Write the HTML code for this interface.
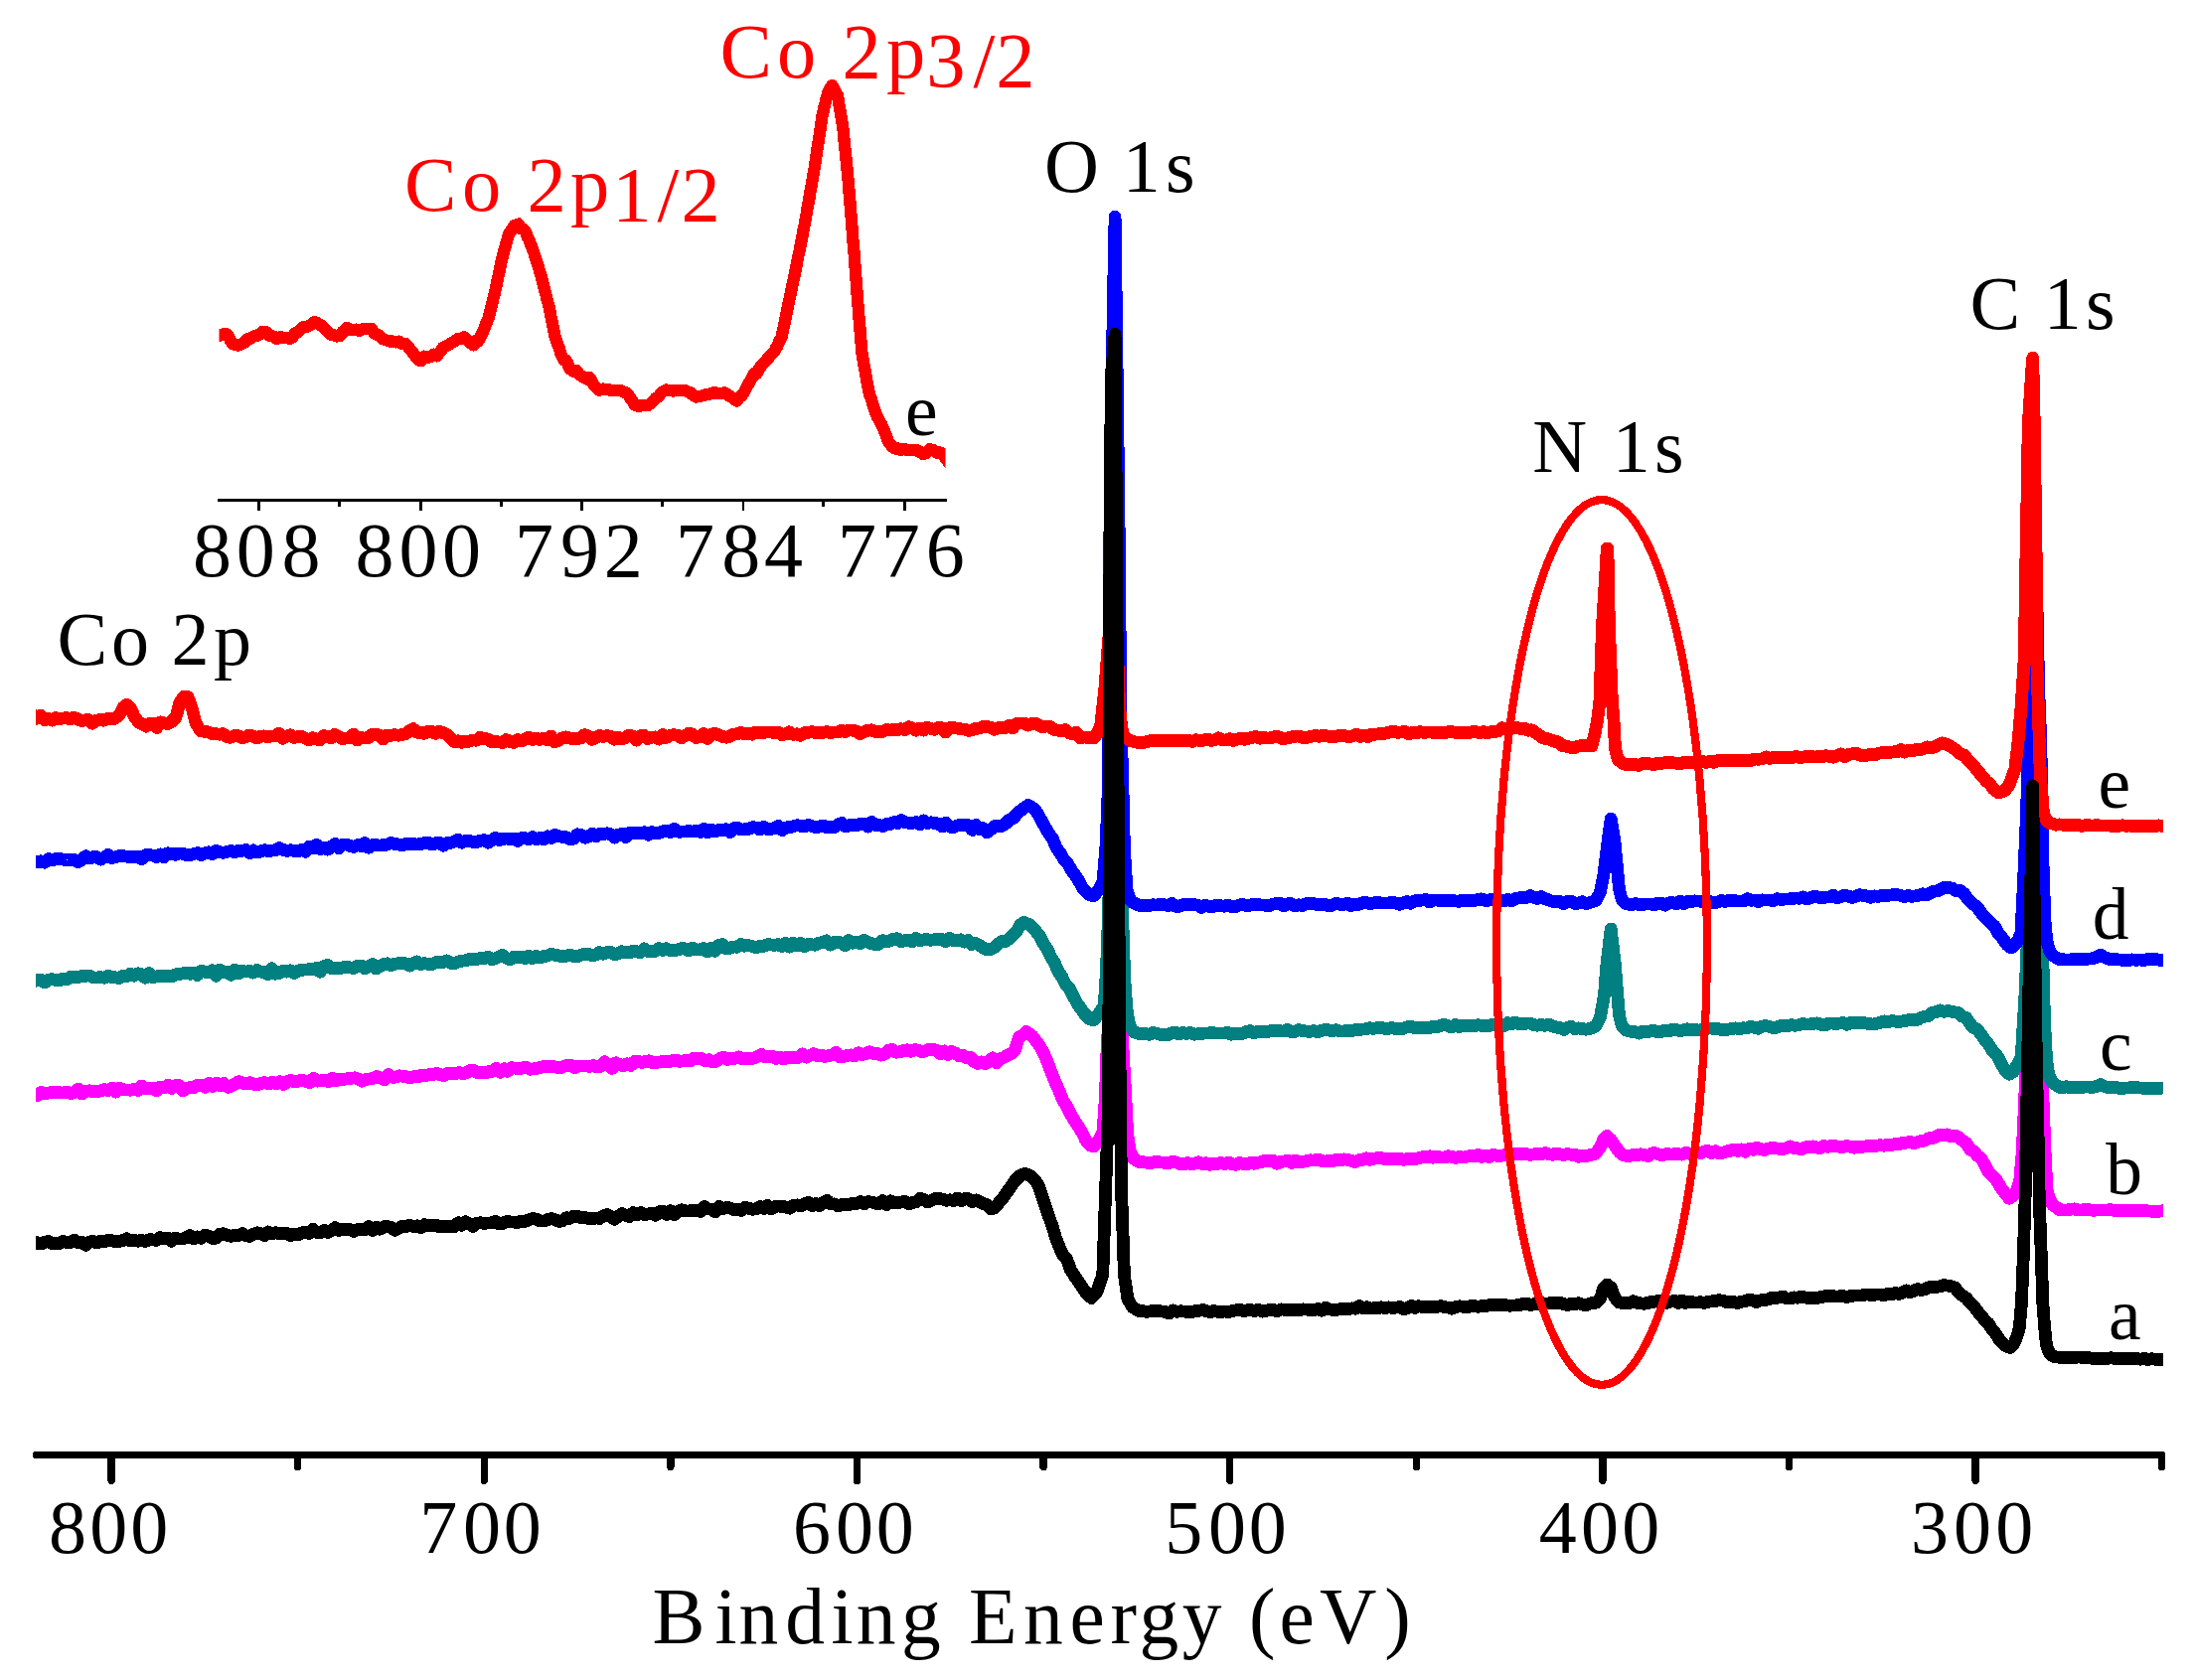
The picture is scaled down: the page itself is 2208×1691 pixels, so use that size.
<!DOCTYPE html>
<html lang="en">
<head>
<meta charset="utf-8">
<title>XPS survey spectra</title>
<style>html,body{margin:0;padding:0;background:#fff}svg{display:block}</style>
</head>
<body>
<svg width="2208" height="1691" viewBox="0 0 2208 1691" shape-rendering="crispEdges">
<rect width="2208" height="1691" fill="#fff"/>
<g stroke="#000" stroke-width="7.5" fill="none" stroke-linecap="round" stroke-linejoin="round">
<path d="M36.6 1464.7 H2175.7 V1476.5"/>
<path d="M112.1 1464.7 V1490.3"/>
<path d="M487.3 1464.7 V1490.3"/>
<path d="M862.5 1464.7 V1490.3"/>
<path d="M1237.7 1464.7 V1490.3"/>
<path d="M1612.9 1464.7 V1490.3"/>
<path d="M1988.1 1464.7 V1490.3"/>
<path d="M299.7 1464.7 V1476.5"/>
<path d="M674.9 1464.7 V1476.5"/>
<path d="M1050.1 1464.7 V1476.5"/>
<path d="M1425.3 1464.7 V1476.5"/>
<path d="M1800.5 1464.7 V1476.5"/>
</g>
<g stroke="#000" stroke-width="2.8" fill="none">
<path d="M219.2 503.2 H953"/>
<path d="M260.5 503.2 V513.8"/>
<path d="M423.4 503.2 V513.8"/>
<path d="M585.8 503.2 V513.8"/>
<path d="M748.0 503.2 V513.8"/>
<path d="M910.4 503.2 V513.8"/>
<path d="M341.3 503.2 V509.6"/>
<path d="M504.3 503.2 V509.6"/>
<path d="M666.8 503.2 V509.6"/>
<path d="M828.5 503.2 V509.6"/>
</g>
<clipPath id="cp"><rect x="36" y="0" width="2141" height="1691"/></clipPath>
<clipPath id="ci"><rect x="220.5" y="0" width="731" height="520"/></clipPath>
<g fill="none" stroke-width="12.8" stroke-linejoin="round" stroke-linecap="butt" clip-path="url(#cp)">
<path stroke="#ff00ff" d="M30.0 1101.8 L33.8 1102.1 L37.5 1102.9 L41.3 1099.5 L45.0 1100.6 L48.8 1100.0 L52.5 1099.3 L56.3 1099.5 L60.0 1099.8 L63.8 1100.0 L67.6 1099.0 L71.3 1100.7 L75.1 1099.2 L78.8 1096.2 L82.6 1101.1 L86.3 1098.6 L90.1 1097.8 L93.9 1098.9 L97.6 1098.5 L101.4 1098.0 L105.1 1096.5 L108.9 1097.7 L112.6 1095.2 L116.4 1099.2 L120.1 1095.3 L123.9 1096.8 L127.7 1097.0 L131.4 1097.2 L135.2 1096.5 L138.9 1097.4 L142.7 1093.0 L146.4 1096.0 L150.2 1095.7 L154.0 1095.1 L157.7 1097.7 L161.5 1094.0 L165.2 1095.1 L169.0 1092.2 L172.7 1095.3 L176.5 1092.6 L180.2 1092.6 L184.0 1098.0 L187.8 1095.6 L191.5 1094.5 L195.3 1094.6 L199.0 1092.1 L202.8 1092.4 L206.5 1094.2 L210.3 1090.3 L214.1 1093.4 L217.8 1090.2 L221.6 1092.5 L225.3 1090.5 L229.1 1094.3 L232.8 1093.1 L236.6 1090.8 L240.3 1088.7 L244.1 1090.1 L247.9 1091.0 L251.6 1089.6 L255.4 1091.2 L259.1 1092.0 L262.9 1090.3 L266.6 1089.6 L270.4 1091.0 L274.2 1089.3 L277.9 1090.7 L281.7 1088.8 L285.4 1091.4 L289.2 1088.6 L292.9 1087.4 L296.7 1089.0 L300.4 1087.9 L304.2 1087.4 L308.0 1088.5 L311.7 1089.6 L315.5 1085.4 L319.2 1088.2 L323.0 1087.8 L326.7 1087.5 L330.5 1088.6 L334.3 1085.3 L338.0 1087.7 L341.8 1086.2 L345.5 1086.4 L349.3 1085.7 L353.0 1085.3 L356.8 1084.8 L360.5 1086.0 L364.3 1088.2 L368.1 1086.5 L371.8 1086.0 L375.6 1085.4 L379.3 1083.6 L383.1 1084.8 L386.8 1086.6 L390.6 1081.5 L394.3 1084.1 L398.1 1084.1 L401.9 1082.8 L405.6 1083.2 L409.4 1083.9 L413.1 1084.9 L416.9 1083.5 L420.6 1083.9 L424.4 1082.0 L428.2 1082.6 L431.9 1081.6 L435.7 1081.6 L439.4 1080.3 L443.2 1081.8 L446.9 1082.6 L450.7 1080.1 L454.4 1080.4 L458.2 1080.7 L462.0 1079.6 L465.7 1080.7 L469.5 1079.6 L473.2 1077.4 L477.0 1077.4 L480.7 1079.8 L484.5 1079.5 L488.3 1080.0 L492.0 1078.6 L495.8 1078.3 L499.5 1075.5 L503.3 1079.4 L507.0 1075.8 L510.8 1078.2 L514.5 1074.7 L518.3 1075.0 L522.1 1075.9 L525.8 1074.8 L529.6 1074.2 L533.3 1076.3 L537.1 1075.8 L540.8 1075.3 L544.6 1074.2 L548.4 1073.4 L552.1 1073.7 L555.9 1073.5 L559.6 1074.0 L563.4 1074.9 L567.1 1073.4 L570.9 1072.2 L574.6 1072.3 L578.4 1074.7 L582.2 1073.0 L585.9 1072.9 L589.7 1072.9 L593.4 1073.3 L597.2 1072.6 L600.9 1074.0 L604.7 1073.4 L608.5 1068.7 L612.2 1071.9 L616.0 1075.4 L619.7 1069.9 L623.5 1071.6 L627.2 1072.7 L631.0 1070.8 L634.7 1072.4 L638.5 1068.4 L642.3 1068.2 L646.0 1069.4 L649.8 1068.4 L653.5 1067.8 L657.3 1069.9 L661.0 1069.4 L664.8 1068.8 L668.6 1068.1 L672.3 1068.8 L676.1 1068.0 L679.8 1066.9 L683.6 1068.4 L687.3 1067.9 L691.1 1067.2 L694.8 1067.8 L698.6 1065.0 L702.4 1066.1 L706.1 1065.4 L709.9 1067.9 L713.6 1066.7 L717.4 1068.9 L721.1 1068.1 L724.9 1065.3 L728.6 1064.2 L732.4 1066.4 L736.2 1065.3 L739.9 1065.3 L743.7 1063.9 L747.4 1066.1 L751.2 1065.3 L754.9 1065.4 L758.7 1065.1 L762.5 1063.3 L766.2 1061.3 L770.0 1064.0 L773.7 1063.4 L777.5 1063.5 L781.2 1065.5 L785.0 1063.9 L788.7 1066.0 L792.5 1064.0 L796.3 1064.6 L800.0 1064.1 L803.8 1064.3 L807.5 1061.1 L811.3 1064.1 L815.0 1062.5 L818.8 1060.7 L822.6 1062.7 L826.3 1062.2 L830.1 1063.4 L833.8 1062.6 L837.6 1062.0 L841.3 1059.2 L845.1 1063.8 L848.8 1063.5 L852.6 1062.4 L856.4 1061.9 L860.1 1062.8 L863.9 1059.8 L867.6 1061.7 L871.4 1060.5 L875.1 1058.8 L878.9 1060.5 L882.7 1060.3 L886.4 1062.1 L890.2 1060.9 L893.9 1057.2 L897.7 1056.6 L901.4 1059.2 L905.2 1058.9 L908.9 1057.7 L912.7 1056.8 L916.5 1058.3 L920.2 1056.7 L924.0 1057.0 L927.7 1058.9 L931.5 1057.7 L935.2 1056.3 L939.0 1056.1 L942.8 1057.7 L946.5 1060.7 L950.3 1058.0 L954.0 1061.6 L957.8 1058.5 L961.5 1060.1 L965.3 1062.9 L969.0 1062.3 L972.8 1064.8 L976.6 1064.3 L980.3 1068.5 L984.1 1070.5 L987.8 1068.9 L991.6 1070.8 L995.3 1068.7 L999.1 1064.8 L1002.9 1069.9 L1006.6 1065.7 L1010.4 1064.4 L1014.1 1062.1 L1017.9 1060.3 L1021.6 1056.6 L1025.4 1043.9 L1029.1 1042.0 L1032.9 1038.5 L1039.0 1043.0 L1046.4 1052.9 L1050.3 1060.0 L1054.2 1069.0 L1058.0 1079.5 L1061.9 1088.9 L1065.8 1097.7 L1069.7 1107.4 L1073.5 1113.1 L1077.4 1121.4 L1081.3 1127.9 L1085.2 1133.9 L1089.0 1140.0 L1092.9 1148.0 L1097.0 1153.0 L1101.0 1154.0 L1105.5 1148.0 L1110.0 1139.0 L1112.5 1103.0 L1113.6 1066.0 L1115.5 1030.0 L1117.0 830.0 L1121.5 650.0 L1126.0 830.0 L1128.8 1030.0 L1130.5 1065.7 L1131.6 1081.0 L1134.7 1141.0 L1137.0 1158.0 L1140.5 1166.0 L1146.0 1169.5 L1153.6 1170.0 L1157.4 1171.0 L1161.1 1169.7 L1164.9 1169.6 L1168.6 1170.0 L1172.4 1170.2 L1176.1 1170.7 L1179.9 1169.4 L1183.6 1170.0 L1187.4 1171.5 L1191.1 1172.1 L1194.9 1170.5 L1198.6 1171.5 L1202.4 1171.1 L1206.1 1169.8 L1209.9 1171.5 L1213.6 1170.8 L1217.4 1172.3 L1221.1 1171.4 L1224.9 1171.5 L1228.6 1170.3 L1232.4 1171.6 L1236.1 1169.9 L1239.9 1171.6 L1243.6 1172.4 L1247.4 1170.2 L1251.1 1171.6 L1254.9 1171.9 L1258.6 1170.4 L1262.4 1171.2 L1266.1 1170.1 L1269.9 1169.5 L1273.6 1168.1 L1277.4 1168.7 L1281.1 1168.2 L1284.9 1171.2 L1288.6 1169.5 L1292.4 1169.0 L1296.1 1168.0 L1299.9 1170.4 L1303.7 1168.0 L1307.4 1170.0 L1311.2 1169.5 L1314.9 1168.5 L1318.7 1167.8 L1322.4 1168.1 L1326.2 1166.9 L1329.9 1168.4 L1333.7 1169.1 L1337.4 1168.5 L1341.2 1168.6 L1344.9 1167.2 L1348.7 1168.0 L1352.4 1166.9 L1356.2 1167.4 L1359.9 1168.3 L1363.7 1169.7 L1367.4 1167.7 L1371.2 1167.5 L1374.9 1165.8 L1378.7 1167.3 L1382.4 1166.3 L1386.2 1165.7 L1389.9 1165.5 L1393.7 1166.7 L1397.4 1166.1 L1401.2 1166.9 L1404.9 1166.1 L1408.7 1166.2 L1412.4 1167.3 L1416.2 1166.7 L1419.9 1166.6 L1423.7 1167.0 L1427.4 1165.8 L1431.2 1164.7 L1434.9 1164.7 L1438.7 1163.8 L1442.4 1165.2 L1446.2 1164.4 L1449.9 1165.0 L1453.7 1165.1 L1457.5 1163.7 L1461.2 1164.5 L1465.0 1165.4 L1468.7 1164.4 L1472.5 1165.1 L1476.2 1164.2 L1480.0 1163.5 L1483.7 1164.0 L1487.5 1162.5 L1491.2 1164.4 L1495.0 1163.3 L1498.7 1164.6 L1502.5 1162.3 L1506.2 1163.3 L1510.0 1163.3 L1513.7 1162.7 L1517.5 1163.0 L1521.2 1162.0 L1525.0 1161.7 L1528.7 1161.3 L1532.5 1161.9 L1536.2 1161.6 L1540.0 1162.3 L1543.7 1161.9 L1547.5 1161.6 L1551.2 1161.6 L1555.0 1160.6 L1558.7 1161.8 L1562.5 1162.3 L1566.2 1160.9 L1570.0 1161.8 L1573.7 1162.5 L1577.5 1161.5 L1581.2 1162.3 L1585.0 1161.9 L1588.7 1164.3 L1592.5 1163.6 L1596.2 1163.5 L1600.0 1162.7 L1606.0 1161.0 L1611.0 1154.0 L1614.0 1146.0 L1617.2 1143.4 L1621.0 1147.0 L1625.0 1153.0 L1630.0 1160.0 L1634.0 1163.0 L1640.0 1163.4 L1643.8 1162.4 L1647.5 1162.7 L1651.3 1161.8 L1655.0 1162.5 L1658.8 1163.5 L1662.6 1160.9 L1666.3 1160.8 L1670.1 1162.2 L1673.9 1162.4 L1677.6 1161.4 L1681.4 1162.0 L1685.1 1161.8 L1688.9 1161.7 L1692.7 1162.2 L1696.4 1160.3 L1700.2 1161.2 L1703.9 1160.6 L1707.7 1159.7 L1711.5 1160.5 L1715.2 1158.9 L1719.0 1158.6 L1722.8 1160.6 L1726.5 1158.7 L1730.3 1160.8 L1734.0 1160.2 L1737.8 1158.8 L1741.6 1158.3 L1745.3 1156.9 L1749.1 1158.4 L1752.8 1156.9 L1756.6 1159.2 L1760.4 1156.2 L1764.1 1157.3 L1767.9 1155.0 L1771.6 1156.5 L1775.4 1157.6 L1779.2 1156.0 L1782.9 1155.6 L1786.7 1155.7 L1790.5 1156.3 L1794.2 1156.6 L1798.0 1155.5 L1801.7 1153.9 L1805.5 1155.6 L1809.3 1155.9 L1813.0 1156.8 L1816.8 1154.8 L1820.5 1154.6 L1824.3 1153.9 L1828.1 1154.9 L1831.8 1155.7 L1835.6 1153.4 L1839.4 1154.3 L1843.1 1153.4 L1846.9 1153.7 L1850.6 1154.2 L1854.4 1154.7 L1858.2 1153.6 L1861.9 1154.0 L1865.7 1155.2 L1869.4 1154.4 L1873.2 1154.4 L1877.0 1154.0 L1880.7 1153.3 L1884.5 1153.6 L1888.2 1153.4 L1892.0 1152.6 L1895.8 1153.2 L1899.5 1152.1 L1903.3 1152.6 L1907.1 1151.6 L1910.8 1151.9 L1914.6 1150.5 L1918.3 1150.2 L1922.1 1149.2 L1925.9 1150.7 L1929.6 1149.6 L1933.4 1148.6 L1937.1 1148.0 L1940.9 1145.8 L1944.7 1145.7 L1948.4 1144.1 L1952.2 1142.0 L1956.0 1142.3 L1959.7 1141.9 L1963.5 1143.9 L1967.2 1143.0 L1971.0 1144.6 L1974.8 1148.0 L1978.7 1150.5 L1982.5 1157.0 L1986.3 1158.6 L1990.2 1163.4 L1994.0 1166.2 L1997.8 1173.0 L2001.7 1180.7 L2005.5 1183.7 L2009.3 1188.0 L2013.2 1194.8 L2017.0 1200.0 L2022.0 1206.3 L2027.0 1203.0 L2030.0 1197.0 L2032.7 1189.0 L2035.0 1162.0 L2036.8 1126.0 L2038.5 1087.0 L2040.5 1050.0 L2046.0 1010.0 L2052.0 1050.0 L2056.1 1108.6 L2058.2 1162.0 L2060.0 1198.0 L2063.0 1208.0 L2066.0 1213.0 L2072.5 1217.5 L2076.2 1218.0 L2079.9 1218.1 L2083.7 1217.2 L2087.4 1216.9 L2091.1 1217.9 L2094.8 1217.9 L2098.5 1217.8 L2102.2 1217.8 L2105.9 1218.2 L2109.7 1218.1 L2113.4 1218.0 L2117.1 1218.1 L2120.8 1217.9 L2124.5 1217.8 L2128.2 1218.5 L2132.0 1218.0 L2135.7 1218.8 L2139.4 1218.4 L2143.1 1218.3 L2146.8 1218.8 L2150.6 1218.4 L2154.3 1218.6 L2158.0 1218.7 L2161.7 1218.9 L2165.4 1219.2 L2169.1 1219.8 L2172.8 1219.3 L2176.6 1218.7 L2180.3 1218.8 L2184.0 1219.0"/>
<path stroke="#008080" d="M30.0 986.7 L33.7 988.2 L37.5 986.3 L41.2 986.1 L45.0 988.9 L48.7 986.2 L52.5 985.7 L56.2 986.5 L60.0 986.8 L63.7 984.9 L67.5 985.6 L71.2 983.2 L75.0 983.9 L78.7 983.7 L82.5 982.4 L86.2 982.2 L89.9 982.0 L93.7 983.9 L97.4 984.0 L101.2 983.7 L104.9 984.2 L108.7 982.1 L112.4 983.7 L116.2 983.9 L119.9 984.5 L123.7 982.1 L127.4 982.6 L131.2 980.2 L134.9 982.2 L138.7 979.8 L142.4 980.8 L146.2 984.3 L149.9 979.6 L153.6 983.7 L157.4 983.0 L161.1 981.9 L164.9 982.8 L168.6 982.7 L172.4 983.1 L176.1 981.1 L179.9 980.3 L183.6 980.0 L187.4 979.2 L191.1 980.3 L194.9 979.1 L198.6 981.5 L202.4 977.3 L206.1 978.3 L209.8 978.5 L213.6 976.8 L217.3 982.3 L221.1 976.1 L224.8 979.0 L228.6 978.5 L232.3 981.3 L236.1 976.0 L239.8 980.1 L243.6 977.4 L247.3 978.1 L251.1 977.3 L254.8 979.1 L258.6 976.5 L262.3 978.0 L266.0 978.6 L269.8 980.7 L273.5 974.7 L277.3 980.2 L281.0 979.3 L284.8 977.2 L288.5 978.1 L292.3 976.8 L296.0 979.5 L299.8 977.2 L303.5 976.3 L307.3 976.0 L311.0 975.8 L314.8 975.6 L318.5 974.4 L322.3 978.3 L326.0 972.5 L329.7 971.5 L333.5 974.7 L337.2 974.4 L341.0 974.9 L344.7 973.8 L348.5 973.6 L352.2 973.9 L356.0 974.5 L359.7 972.2 L363.5 972.0 L367.2 975.0 L371.0 972.8 L374.7 970.5 L378.5 975.0 L382.2 972.7 L385.9 970.7 L389.7 969.8 L393.4 971.8 L397.2 970.1 L400.9 969.7 L404.7 969.2 L408.4 970.0 L412.2 972.1 L415.9 969.6 L419.7 967.9 L423.4 970.7 L427.2 969.6 L430.9 970.5 L434.7 970.8 L438.4 968.7 L442.1 968.6 L445.9 968.6 L449.6 966.9 L453.4 969.2 L457.1 970.0 L460.9 968.1 L464.6 967.2 L468.4 966.8 L472.1 965.7 L475.9 965.3 L479.6 965.5 L483.4 964.6 L487.1 964.8 L490.9 963.0 L494.6 965.5 L498.4 964.9 L502.1 963.0 L505.8 961.3 L509.6 964.4 L513.3 965.9 L517.1 963.2 L520.8 963.4 L524.6 963.1 L528.3 964.6 L532.1 962.1 L535.8 964.6 L539.6 962.5 L543.3 964.1 L547.1 962.6 L550.8 962.1 L554.6 960.3 L558.3 961.3 L562.0 961.8 L565.8 963.1 L569.5 962.4 L573.3 961.0 L577.0 962.4 L580.8 963.0 L584.5 961.2 L588.3 960.5 L592.0 960.3 L595.8 961.7 L599.5 961.0 L603.3 958.6 L607.0 960.2 L610.8 958.7 L614.5 958.1 L618.3 960.7 L622.0 960.0 L625.7 957.7 L629.5 958.6 L633.2 959.1 L637.0 957.3 L640.7 957.8 L644.5 958.6 L648.2 954.9 L652.0 957.6 L655.7 957.9 L659.5 957.3 L663.2 954.5 L667.0 956.6 L670.7 954.8 L674.5 956.7 L678.2 956.7 L681.9 956.1 L685.7 954.7 L689.4 954.9 L693.2 956.8 L696.9 954.3 L700.7 956.1 L704.4 955.9 L708.2 954.6 L711.9 958.1 L715.7 954.6 L719.4 957.3 L723.2 951.2 L726.9 950.6 L730.7 955.0 L734.4 954.4 L738.1 952.9 L741.9 953.2 L745.6 950.5 L749.4 952.2 L753.1 951.5 L756.9 952.5 L760.6 953.8 L764.4 952.4 L768.1 952.6 L771.9 950.8 L775.6 950.9 L779.4 951.4 L783.1 950.6 L786.9 952.6 L790.6 949.4 L794.4 953.2 L798.1 949.1 L801.8 951.9 L805.6 949.3 L809.3 952.7 L813.1 950.5 L816.8 950.8 L820.6 951.2 L824.3 949.1 L828.1 948.4 L831.8 946.9 L835.6 951.2 L839.3 948.4 L843.1 948.4 L846.8 949.0 L850.6 951.8 L854.3 946.5 L858.0 949.2 L861.8 948.3 L865.5 949.6 L869.3 946.3 L873.0 948.1 L876.8 949.7 L880.5 950.6 L884.3 950.4 L888.0 946.7 L891.8 947.7 L895.5 947.2 L899.3 945.1 L903.0 944.8 L906.8 947.6 L910.5 946.7 L914.2 946.0 L918.0 947.8 L921.7 944.6 L925.5 946.7 L929.2 945.9 L933.0 945.7 L936.7 946.3 L940.5 945.7 L944.2 945.6 L948.0 945.4 L951.7 947.6 L955.5 944.2 L959.2 946.5 L963.0 946.5 L966.7 945.8 L970.5 948.1 L974.2 946.4 L977.9 950.6 L981.7 949.3 L985.4 951.3 L989.2 953.9 L992.9 956.0 L996.7 955.4 L1000.4 953.8 L1004.2 950.6 L1007.9 947.5 L1011.7 947.5 L1015.4 945.0 L1019.2 941.1 L1022.9 937.8 L1026.7 931.0 L1030.4 928.5 L1037.0 931.0 L1046.4 942.0 L1050.1 949.8 L1053.8 954.9 L1057.6 963.4 L1061.3 968.9 L1065.0 977.9 L1068.7 983.2 L1072.4 990.7 L1076.1 994.9 L1079.8 1002.0 L1083.6 1009.2 L1087.3 1014.7 L1091.0 1020.0 L1097.0 1026.0 L1101.0 1026.5 L1105.5 1021.0 L1111.2 1012.0 L1113.5 976.0 L1114.8 940.0 L1116.0 900.0 L1117.0 700.0 L1121.5 520.0 L1126.0 700.0 L1128.8 900.0 L1129.7 923.0 L1130.8 958.6 L1132.3 994.3 L1134.5 1021.0 L1137.0 1033.0 L1140.5 1038.5 L1146.6 1040.5 L1152.8 1040.6 L1156.6 1041.4 L1160.3 1039.4 L1164.1 1040.2 L1167.8 1041.3 L1171.6 1041.5 L1175.3 1041.6 L1179.1 1039.7 L1182.9 1039.2 L1186.6 1040.9 L1190.4 1039.4 L1194.1 1040.4 L1197.9 1039.4 L1201.7 1041.2 L1205.4 1040.8 L1209.2 1040.5 L1212.9 1040.0 L1216.7 1039.9 L1220.4 1039.6 L1224.2 1040.1 L1228.0 1039.9 L1231.7 1040.1 L1235.5 1039.4 L1239.2 1041.2 L1243.0 1039.9 L1246.7 1040.6 L1250.5 1040.4 L1254.3 1038.5 L1258.0 1037.6 L1261.8 1039.8 L1265.5 1038.3 L1269.3 1038.5 L1273.1 1038.1 L1276.8 1038.3 L1280.6 1037.2 L1284.3 1038.0 L1288.1 1037.7 L1291.8 1038.1 L1295.6 1036.3 L1299.4 1038.8 L1303.1 1038.4 L1306.9 1036.7 L1310.6 1037.5 L1314.4 1038.0 L1318.2 1038.3 L1321.9 1037.7 L1325.7 1038.7 L1329.4 1037.5 L1333.2 1036.6 L1336.9 1036.8 L1340.7 1037.8 L1344.5 1036.7 L1348.2 1037.9 L1352.0 1038.0 L1355.7 1037.6 L1359.5 1037.9 L1363.2 1036.8 L1367.0 1036.7 L1370.8 1036.1 L1374.5 1035.8 L1378.3 1034.8 L1382.0 1035.4 L1385.8 1034.7 L1389.6 1034.2 L1393.3 1035.2 L1397.1 1035.3 L1400.8 1034.5 L1404.6 1035.8 L1408.3 1035.3 L1412.1 1035.3 L1415.9 1033.9 L1419.6 1033.2 L1423.4 1034.7 L1427.1 1034.4 L1430.9 1034.6 L1434.6 1034.2 L1438.4 1034.7 L1442.2 1033.2 L1445.9 1033.8 L1449.7 1032.5 L1453.4 1031.2 L1457.2 1032.6 L1461.0 1034.1 L1464.7 1031.5 L1468.5 1033.7 L1472.2 1032.3 L1476.0 1032.5 L1479.7 1032.8 L1483.5 1032.8 L1487.3 1031.7 L1491.0 1032.4 L1494.8 1032.4 L1498.5 1032.5 L1502.3 1031.0 L1506.1 1032.6 L1509.8 1032.6 L1513.6 1032.8 L1517.3 1029.6 L1521.1 1030.7 L1524.8 1028.9 L1528.6 1030.6 L1532.4 1031.0 L1536.1 1030.0 L1539.9 1029.9 L1543.6 1031.6 L1547.4 1032.2 L1551.1 1031.4 L1554.9 1032.3 L1558.7 1031.0 L1562.4 1032.9 L1566.2 1034.1 L1569.9 1034.6 L1573.7 1036.4 L1577.5 1034.2 L1581.2 1033.4 L1585.0 1035.7 L1588.7 1034.9 L1592.5 1035.7 L1596.2 1036.2 L1600.0 1035.5 L1606.0 1033.0 L1610.5 1024.0 L1614.5 1001.3 L1617.0 970.3 L1621.2 935.0 L1625.3 970.3 L1627.8 1001.3 L1629.5 1022.0 L1632.0 1032.0 L1636.0 1037.0 L1642.0 1038.5 L1645.7 1038.7 L1649.5 1040.1 L1653.2 1038.0 L1657.0 1038.9 L1660.7 1037.9 L1664.4 1037.4 L1668.2 1038.9 L1671.9 1038.4 L1675.6 1037.2 L1679.4 1038.1 L1683.1 1036.2 L1686.9 1036.6 L1690.6 1037.7 L1694.3 1036.9 L1698.1 1035.8 L1701.8 1036.8 L1705.6 1036.5 L1709.3 1037.0 L1713.0 1036.5 L1716.8 1035.4 L1720.5 1035.0 L1724.2 1035.2 L1728.0 1035.1 L1731.7 1036.4 L1735.5 1036.4 L1739.2 1036.2 L1742.9 1035.5 L1746.7 1034.9 L1750.4 1035.8 L1754.2 1034.7 L1757.9 1035.1 L1761.6 1033.3 L1765.4 1034.1 L1769.1 1035.3 L1772.9 1033.1 L1776.6 1032.5 L1780.3 1033.3 L1784.1 1034.6 L1787.8 1034.2 L1791.5 1032.6 L1795.3 1032.4 L1799.0 1032.5 L1802.8 1031.7 L1806.5 1032.3 L1810.2 1031.8 L1814.0 1030.6 L1817.7 1031.0 L1821.5 1031.0 L1825.2 1030.3 L1828.9 1029.9 L1832.7 1031.4 L1836.4 1032.0 L1840.1 1030.1 L1843.9 1029.9 L1847.6 1030.6 L1851.4 1030.0 L1855.1 1029.6 L1858.8 1031.3 L1862.6 1029.4 L1866.3 1029.7 L1870.1 1029.7 L1873.8 1029.5 L1877.5 1029.9 L1881.3 1030.5 L1885.0 1031.1 L1888.8 1030.1 L1892.5 1029.3 L1896.2 1027.9 L1900.0 1028.6 L1903.7 1027.6 L1907.4 1028.0 L1911.2 1028.7 L1914.9 1027.8 L1918.7 1027.2 L1922.4 1026.3 L1926.1 1026.5 L1929.9 1026.2 L1933.6 1024.2 L1937.4 1023.1 L1941.1 1022.6 L1944.8 1019.0 L1948.6 1018.7 L1952.3 1016.9 L1956.0 1018.3 L1959.8 1017.7 L1963.5 1018.0 L1967.3 1018.8 L1971.0 1019.5 L1974.8 1023.2 L1978.7 1024.3 L1982.5 1030.4 L1986.3 1034.5 L1990.2 1036.5 L1994.0 1041.8 L1997.8 1047.0 L2001.7 1052.0 L2005.5 1058.1 L2009.3 1061.6 L2013.2 1068.8 L2017.0 1076.0 L2022.0 1081.2 L2026.0 1079.0 L2030.0 1072.0 L2034.2 1064.0 L2035.8 1037.0 L2038.0 1001.0 L2039.5 965.7 L2041.0 930.0 L2046.0 880.0 L2052.0 930.0 L2056.1 974.6 L2057.3 1019.0 L2058.8 1055.0 L2060.6 1076.4 L2063.0 1085.0 L2066.0 1090.0 L2072.5 1094.3 L2076.1 1094.6 L2079.7 1093.7 L2083.3 1094.8 L2086.9 1094.5 L2090.6 1094.2 L2094.2 1094.5 L2097.8 1094.1 L2101.4 1094.0 L2105.0 1094.5 L2110.0 1093.5 L2114.0 1091.5 L2118.0 1093.5 L2123.0 1095.0 L2126.8 1094.6 L2130.6 1094.7 L2134.4 1095.7 L2138.2 1095.1 L2142.1 1094.9 L2145.9 1094.8 L2149.7 1094.7 L2153.5 1095.0 L2157.3 1095.2 L2161.1 1095.5 L2164.9 1095.5 L2168.8 1095.3 L2172.6 1095.1 L2176.4 1095.1 L2180.2 1094.7 L2184.0 1095.6"/>
<path stroke="#0000ff" d="M30.0 867.0 L33.7 867.2 L37.5 867.7 L41.2 866.8 L45.0 868.2 L48.7 864.6 L52.5 865.8 L56.2 864.6 L60.0 864.4 L63.7 865.1 L67.5 865.5 L71.2 865.5 L75.0 865.4 L78.7 867.6 L82.5 865.4 L86.2 861.8 L90.0 864.1 L93.7 862.7 L97.5 862.7 L101.2 865.1 L105.0 862.9 L108.7 860.5 L112.5 863.6 L116.2 862.7 L120.0 861.5 L123.7 861.7 L127.5 862.1 L131.2 862.8 L135.0 862.0 L138.7 862.5 L142.5 864.7 L146.2 860.7 L150.0 860.5 L153.7 861.0 L157.4 862.7 L161.2 860.0 L164.9 862.8 L168.7 858.8 L172.4 859.1 L176.2 860.3 L179.9 859.0 L183.7 859.2 L187.4 860.5 L191.2 860.6 L194.9 859.5 L198.7 858.6 L202.4 860.6 L206.2 859.0 L209.9 857.8 L213.7 859.6 L217.4 856.4 L221.2 857.7 L224.9 858.3 L228.7 857.3 L232.4 856.4 L236.2 857.7 L239.9 856.4 L243.7 856.2 L247.4 855.5 L251.2 858.7 L254.9 855.9 L258.7 858.1 L262.4 856.8 L266.2 855.7 L269.9 856.8 L273.7 856.1 L277.4 855.7 L281.1 853.5 L284.9 855.4 L288.6 856.4 L292.4 855.8 L296.1 856.4 L299.9 857.0 L303.6 855.3 L307.4 857.3 L311.1 852.2 L314.9 853.7 L318.6 850.2 L322.4 854.6 L326.1 853.2 L329.9 855.1 L333.6 852.0 L337.4 849.4 L341.1 853.8 L344.9 850.0 L348.6 850.0 L352.4 851.4 L356.1 852.4 L359.9 850.7 L363.6 851.5 L367.4 848.5 L371.1 853.3 L374.9 850.6 L378.6 850.6 L382.4 851.1 L386.1 850.3 L389.9 850.1 L393.6 848.4 L397.4 849.4 L401.1 850.0 L404.9 850.8 L408.6 849.2 L412.3 849.4 L416.1 849.7 L419.8 850.0 L423.6 849.4 L427.3 848.6 L431.1 848.1 L434.8 850.1 L438.6 848.7 L442.3 848.0 L446.1 851.2 L449.8 848.7 L453.6 848.4 L457.3 847.1 L461.1 845.3 L464.8 848.2 L468.6 846.3 L472.3 846.3 L476.1 847.6 L479.8 847.4 L483.6 846.1 L487.3 845.6 L491.1 848.2 L494.8 845.8 L498.6 843.3 L502.3 845.5 L506.1 844.4 L509.8 844.0 L513.6 844.7 L517.3 843.9 L521.1 846.3 L524.8 843.7 L528.6 843.7 L532.3 845.0 L536.0 842.5 L539.8 844.7 L543.5 843.2 L547.3 844.8 L551.0 841.8 L554.8 843.5 L558.5 840.4 L562.3 841.9 L566.0 842.3 L569.8 842.8 L573.5 844.7 L577.3 844.3 L581.0 839.8 L584.8 840.5 L588.5 843.2 L592.3 842.0 L596.0 839.3 L599.8 841.8 L603.5 839.4 L607.3 839.6 L611.0 838.8 L614.8 839.9 L618.5 843.1 L622.3 840.2 L626.0 839.2 L629.8 842.6 L633.5 838.2 L637.3 838.4 L641.0 838.1 L644.8 839.0 L648.5 837.8 L652.3 840.3 L656.0 837.7 L659.7 838.9 L663.5 838.3 L667.2 836.7 L671.0 836.3 L674.7 837.5 L678.5 834.1 L682.2 837.2 L686.0 837.1 L689.7 837.0 L693.5 836.6 L697.2 837.1 L701.0 836.0 L704.7 837.4 L708.5 834.2 L712.2 837.7 L716.0 835.1 L719.7 837.0 L723.5 835.5 L727.2 835.4 L731.0 834.7 L734.7 837.5 L738.5 833.8 L742.2 833.3 L746.0 835.1 L749.7 834.8 L753.5 834.3 L757.2 832.7 L761.0 833.0 L764.7 835.0 L768.5 832.2 L772.2 834.4 L776.0 834.4 L779.7 833.4 L783.4 831.4 L787.2 835.6 L790.9 832.9 L794.7 832.7 L798.4 831.7 L802.2 830.7 L805.9 831.4 L809.7 831.9 L813.4 830.3 L817.2 831.5 L820.9 832.9 L824.7 831.9 L828.4 831.1 L832.2 832.7 L835.9 832.5 L839.7 832.5 L843.4 830.0 L847.2 828.5 L850.9 832.0 L854.7 830.8 L858.4 830.0 L862.2 830.9 L865.9 829.4 L869.7 829.0 L873.4 832.2 L877.2 827.3 L880.9 830.5 L884.7 830.6 L888.4 831.6 L892.2 829.4 L895.9 829.6 L899.7 827.5 L903.4 828.6 L907.2 825.5 L910.9 827.6 L914.6 828.3 L918.4 828.2 L922.1 827.6 L925.9 829.9 L929.6 826.0 L933.4 828.5 L937.1 827.8 L940.9 828.6 L944.6 829.0 L948.4 832.1 L952.1 828.3 L955.9 832.1 L959.6 832.6 L963.4 830.9 L967.1 830.5 L970.9 830.0 L974.6 830.8 L978.4 835.5 L982.1 830.3 L985.9 834.6 L989.6 833.7 L993.4 838.0 L997.1 835.0 L1000.9 831.5 L1004.6 831.6 L1008.4 831.4 L1012.1 828.9 L1015.9 825.1 L1019.6 823.6 L1023.4 819.4 L1027.1 815.9 L1030.9 813.0 L1034.6 810.5 L1041.0 814.0 L1044.7 819.6 L1048.4 826.5 L1052.1 833.0 L1055.8 839.5 L1059.5 844.3 L1063.2 853.6 L1067.0 858.6 L1070.7 865.0 L1074.4 869.0 L1078.1 875.7 L1081.8 880.8 L1085.5 886.2 L1089.2 893.5 L1092.9 897.5 L1097.0 901.0 L1101.0 901.5 L1105.5 896.0 L1110.0 887.0 L1113.0 851.0 L1114.5 816.0 L1115.7 780.0 L1116.2 594.0 L1117.6 480.0 L1120.3 307.0 L1122.1 218.2 L1123.3 307.0 L1125.5 480.0 L1126.7 580.0 L1127.3 660.0 L1128.3 740.0 L1129.7 780.0 L1130.8 833.6 L1132.3 869.3 L1134.2 896.0 L1137.0 905.0 L1140.0 908.5 L1147.0 911.5 L1152.8 911.7 L1156.6 911.4 L1160.3 910.8 L1164.1 911.1 L1167.8 909.9 L1171.6 910.7 L1175.3 911.6 L1179.1 909.4 L1182.9 912.3 L1186.6 912.2 L1190.4 910.8 L1194.1 910.3 L1197.9 910.4 L1201.7 910.6 L1205.4 911.1 L1209.2 913.5 L1212.9 911.0 L1216.7 912.5 L1220.4 912.9 L1224.2 911.1 L1228.0 911.6 L1231.7 912.2 L1235.5 911.1 L1239.2 912.4 L1243.0 913.0 L1246.7 911.2 L1250.5 910.4 L1254.3 911.5 L1258.0 911.2 L1261.8 910.3 L1265.5 910.8 L1269.3 910.9 L1273.1 911.2 L1276.8 911.7 L1280.6 910.3 L1284.3 909.5 L1288.1 909.1 L1291.8 911.8 L1295.6 909.8 L1299.4 909.7 L1303.1 911.9 L1306.9 910.8 L1310.6 911.6 L1314.4 909.7 L1318.2 909.3 L1321.9 909.5 L1325.7 910.5 L1329.4 910.4 L1333.2 910.4 L1336.9 911.9 L1340.7 911.2 L1344.5 909.2 L1348.2 910.3 L1352.0 910.4 L1355.7 909.2 L1359.5 911.5 L1363.2 910.2 L1367.0 910.6 L1370.8 908.9 L1374.5 908.3 L1378.3 909.7 L1382.0 908.9 L1385.8 908.6 L1389.6 908.9 L1393.3 909.1 L1397.1 908.9 L1400.8 908.5 L1404.6 908.9 L1408.3 910.3 L1412.1 909.0 L1415.9 907.5 L1419.6 909.3 L1423.4 907.1 L1427.1 906.1 L1430.9 906.1 L1434.6 905.5 L1438.4 908.0 L1442.2 906.2 L1445.9 906.0 L1449.7 906.6 L1453.4 906.9 L1457.2 906.1 L1461.0 906.5 L1464.7 906.9 L1468.5 907.3 L1472.2 905.9 L1476.0 906.9 L1479.7 906.5 L1483.5 906.6 L1487.3 905.5 L1491.0 904.9 L1494.8 906.5 L1498.5 906.1 L1502.3 905.0 L1506.1 904.8 L1509.8 905.9 L1513.6 906.9 L1517.3 905.4 L1521.1 906.8 L1524.8 904.5 L1528.6 903.9 L1532.4 903.4 L1536.1 903.4 L1539.9 901.6 L1543.6 903.3 L1547.4 904.5 L1551.1 902.7 L1554.9 904.8 L1558.7 905.9 L1562.4 907.4 L1566.2 908.0 L1569.9 907.4 L1573.7 909.8 L1577.5 907.4 L1581.2 907.3 L1585.0 909.6 L1588.7 909.1 L1592.5 907.7 L1596.2 909.5 L1600.0 908.5 L1606.0 906.5 L1610.5 898.0 L1614.0 880.0 L1618.1 846.5 L1621.2 824.2 L1625.0 846.5 L1627.8 877.4 L1629.5 895.0 L1632.0 905.0 L1636.0 909.5 L1642.0 911.0 L1645.8 909.5 L1649.5 910.5 L1653.3 910.4 L1657.0 910.0 L1660.8 909.9 L1664.5 911.0 L1668.3 909.1 L1672.1 909.2 L1675.8 911.2 L1679.6 908.8 L1683.3 908.6 L1687.1 909.7 L1690.8 907.1 L1694.6 909.7 L1698.4 907.2 L1702.1 907.4 L1705.9 906.9 L1709.6 907.1 L1713.4 907.2 L1717.1 908.5 L1720.9 907.7 L1724.7 908.7 L1728.4 908.2 L1732.2 906.4 L1735.9 907.3 L1739.7 906.6 L1743.4 906.6 L1747.2 906.9 L1751.0 906.9 L1754.7 906.9 L1758.5 904.7 L1762.2 906.2 L1766.0 905.9 L1769.7 907.7 L1773.5 905.9 L1777.3 906.0 L1781.0 906.0 L1784.8 906.5 L1788.5 904.7 L1792.3 905.4 L1796.0 905.1 L1799.8 905.0 L1803.6 904.5 L1807.3 904.0 L1811.1 904.2 L1814.8 902.9 L1818.6 905.0 L1822.4 903.5 L1826.1 902.0 L1829.9 903.1 L1833.6 904.0 L1837.4 903.0 L1841.1 903.0 L1844.9 901.2 L1848.7 904.0 L1852.4 902.8 L1856.2 901.0 L1859.9 902.0 L1863.7 903.4 L1867.4 902.4 L1871.2 900.7 L1875.0 901.3 L1878.7 901.9 L1882.5 903.4 L1886.2 901.9 L1890.0 902.3 L1893.7 901.5 L1897.5 901.9 L1901.3 901.1 L1905.0 900.8 L1908.8 900.7 L1912.5 901.3 L1916.3 902.7 L1920.0 901.5 L1923.8 902.3 L1927.6 901.9 L1931.3 901.2 L1935.1 899.8 L1938.8 901.1 L1942.6 898.8 L1946.3 897.2 L1950.1 896.6 L1953.9 894.9 L1957.6 893.0 L1961.4 893.6 L1965.1 894.3 L1968.9 897.0 L1972.6 896.3 L1976.4 899.2 L1980.3 904.9 L1984.1 908.5 L1988.0 911.8 L1991.8 915.8 L1995.7 921.5 L1999.6 925.4 L2003.4 929.0 L2007.3 932.3 L2011.1 939.5 L2015.0 944.0 L2020.0 951.0 L2024.0 954.0 L2028.0 951.0 L2031.0 946.0 L2033.8 940.0 L2035.5 908.0 L2037.2 872.0 L2039.5 818.6 L2041.2 760.0 L2043.0 663.0 L2044.5 560.0 L2046.3 480.0 L2048.9 561.0 L2050.2 620.0 L2051.7 693.6 L2053.8 747.0 L2054.7 792.0 L2055.6 836.0 L2056.1 872.0 L2057.3 908.0 L2058.2 930.0 L2060.0 948.0 L2063.0 958.0 L2066.0 962.0 L2072.5 965.7 L2076.1 965.8 L2079.7 966.0 L2083.3 965.9 L2086.9 965.4 L2090.6 965.3 L2094.2 965.3 L2097.8 965.4 L2101.4 965.1 L2105.0 965.0 L2110.0 963.5 L2114.0 961.0 L2118.0 963.5 L2123.0 965.5 L2126.8 965.9 L2130.6 965.8 L2134.4 966.1 L2138.2 966.8 L2142.1 966.5 L2145.9 965.9 L2149.7 966.2 L2153.5 966.0 L2157.3 966.5 L2161.1 965.7 L2164.9 965.7 L2168.8 965.4 L2172.6 966.2 L2176.4 966.3 L2180.2 966.5 L2184.0 966.5"/>
<path stroke="#ff0000" d="M30.0 723.3 L33.7 720.0 L37.4 723.1 L41.1 720.1 L44.8 724.8 L48.5 723.5 L52.2 725.1 L55.9 722.5 L59.6 723.8 L63.3 723.0 L67.0 722.5 L70.7 723.9 L74.3 722.2 L78.0 723.8 L81.7 725.5 L85.4 724.9 L89.1 724.5 L92.8 728.3 L96.5 725.4 L100.2 724.6 L103.9 725.2 L107.6 723.7 L111.3 723.4 L115.0 723.5 L120.0 720.0 L124.0 712.0 L127.5 709.3 L131.0 712.0 L135.0 721.0 L140.0 727.5 L143.6 728.9 L147.1 731.1 L150.7 728.2 L154.2 727.9 L157.8 732.5 L161.3 726.9 L164.9 727.8 L168.4 728.6 L172.0 727.0 L177.0 722.0 L181.0 707.0 L185.0 701.0 L189.0 701.5 L193.0 712.0 L197.0 728.0 L202.0 736.0 L205.7 736.2 L209.5 736.9 L213.2 738.6 L217.0 738.7 L220.7 739.2 L224.5 738.7 L228.2 741.5 L232.0 742.3 L235.7 740.7 L239.5 740.6 L243.2 742.4 L247.0 742.1 L250.7 740.0 L254.5 740.9 L258.2 743.0 L262.0 741.3 L265.7 740.9 L269.5 741.5 L273.2 741.1 L277.0 741.0 L280.7 738.3 L284.5 743.4 L288.2 741.3 L292.0 739.8 L295.7 742.5 L299.5 741.7 L303.2 741.4 L307.0 743.0 L310.7 744.9 L314.5 742.6 L318.2 744.1 L322.0 744.9 L325.7 740.5 L329.5 741.2 L333.2 743.0 L337.0 739.4 L340.7 741.3 L344.5 743.5 L348.2 743.1 L352.0 742.5 L355.7 739.1 L359.5 745.1 L363.2 742.6 L367.0 743.0 L370.7 742.6 L374.5 739.4 L378.2 739.8 L381.9 739.9 L385.7 744.1 L389.4 740.1 L393.2 740.3 L396.9 739.6 L400.7 740.2 L404.4 739.5 L408.2 738.6 L411.9 735.9 L415.7 733.7 L419.4 737.2 L423.2 737.2 L426.9 738.3 L430.7 736.4 L434.4 736.3 L438.2 738.3 L441.9 736.1 L445.7 737.6 L449.4 739.1 L453.2 742.5 L456.9 746.5 L460.7 745.8 L464.4 747.3 L468.2 746.3 L471.9 746.2 L475.7 745.0 L479.4 745.2 L483.2 742.2 L486.9 743.9 L490.7 743.8 L494.4 746.7 L498.2 746.4 L501.9 746.9 L505.7 747.4 L509.4 744.6 L513.2 746.4 L516.9 747.5 L520.7 744.6 L524.4 746.0 L528.2 744.2 L531.9 742.1 L535.7 744.4 L539.4 743.1 L543.2 744.4 L546.9 743.5 L550.7 744.5 L554.4 740.9 L558.2 746.7 L561.9 745.5 L565.6 742.9 L569.4 741.9 L573.1 743.0 L576.9 743.7 L580.6 743.2 L584.4 743.1 L588.1 739.7 L591.9 740.9 L595.6 744.4 L599.4 742.8 L603.1 740.4 L606.9 741.4 L610.6 740.6 L614.4 741.2 L618.1 744.2 L621.9 742.2 L625.6 744.0 L629.4 742.5 L633.1 740.0 L636.9 741.1 L640.6 745.2 L644.4 740.8 L648.1 740.4 L651.9 743.6 L655.6 742.0 L659.4 741.9 L663.1 744.0 L666.9 739.4 L670.6 742.4 L674.4 740.2 L678.1 739.6 L681.9 740.3 L685.6 742.9 L689.4 740.8 L693.1 738.1 L696.9 739.0 L700.6 742.5 L704.4 741.7 L708.1 738.6 L711.9 743.5 L715.6 739.5 L719.4 738.3 L723.1 739.8 L726.9 741.3 L730.6 742.2 L734.4 741.3 L738.1 739.1 L741.8 738.7 L745.6 737.3 L749.3 739.1 L753.1 738.2 L756.8 739.2 L760.6 737.0 L764.3 738.0 L768.1 737.4 L771.8 737.0 L775.6 737.1 L779.3 737.3 L783.1 737.1 L786.8 739.6 L790.6 738.9 L794.3 736.8 L798.1 739.3 L801.8 738.8 L805.6 740.3 L809.3 737.7 L813.1 737.5 L816.8 736.6 L820.6 737.5 L824.3 737.9 L828.1 737.3 L831.8 736.6 L835.6 737.7 L839.3 737.0 L843.1 737.1 L846.8 735.3 L850.6 736.8 L854.3 734.9 L858.1 735.0 L861.8 736.2 L865.6 738.7 L869.3 736.9 L873.1 735.3 L876.8 734.8 L880.6 736.4 L884.3 736.8 L888.1 736.6 L891.8 734.5 L895.6 735.1 L899.3 734.4 L903.1 734.5 L906.8 733.7 L910.6 734.5 L914.3 731.7 L918.1 733.0 L921.8 735.2 L925.5 733.1 L929.3 735.1 L933.0 732.3 L936.8 733.5 L940.5 734.4 L944.3 732.3 L948.0 732.7 L951.8 737.1 L955.5 732.6 L959.3 732.7 L963.0 733.0 L966.8 733.9 L970.5 733.9 L974.3 735.3 L978.0 735.0 L981.8 733.2 L985.5 733.1 L989.3 731.5 L993.0 731.3 L996.8 732.3 L1000.5 734.3 L1004.3 732.7 L1008.0 732.9 L1011.8 732.5 L1015.5 730.3 L1019.3 732.9 L1023.0 728.4 L1026.8 727.9 L1030.5 728.0 L1034.3 730.1 L1038.0 728.6 L1041.8 728.1 L1045.5 730.1 L1049.3 731.9 L1053.0 730.9 L1056.8 731.5 L1060.5 734.3 L1064.3 735.0 L1068.0 735.9 L1071.8 734.6 L1075.5 737.5 L1079.3 739.0 L1083.0 737.2 L1086.8 742.7 L1090.5 742.0 L1094.3 742.2 L1098.0 743.0 L1101.0 743.0 L1104.5 738.0 L1107.7 730.0 L1111.8 694.0 L1115.0 652.0 L1121.5 575.0 L1126.7 712.0 L1128.3 730.0 L1131.0 741.0 L1137.0 745.5 L1143.7 747.2 L1147.5 747.3 L1151.2 747.3 L1155.0 746.4 L1158.7 745.5 L1162.5 745.5 L1166.2 745.3 L1170.0 745.1 L1173.7 745.9 L1177.5 745.5 L1181.2 745.9 L1185.0 745.2 L1188.8 745.1 L1192.5 745.7 L1196.3 745.4 L1200.0 746.5 L1203.8 744.7 L1207.5 745.5 L1211.3 745.1 L1215.0 743.9 L1218.8 745.4 L1222.5 744.8 L1226.3 742.8 L1230.1 744.9 L1233.8 745.1 L1237.6 743.6 L1241.3 745.5 L1245.1 744.2 L1248.8 743.0 L1252.6 744.3 L1256.3 743.4 L1260.1 742.4 L1263.8 741.5 L1267.6 743.2 L1271.4 742.2 L1275.1 743.1 L1278.9 742.7 L1282.6 741.7 L1286.4 741.6 L1290.1 743.4 L1293.9 743.3 L1297.6 742.4 L1301.4 741.5 L1305.1 741.0 L1308.9 741.4 L1312.7 743.0 L1316.4 742.0 L1320.2 741.2 L1323.9 740.3 L1327.7 741.3 L1331.4 740.3 L1335.2 740.9 L1338.9 741.4 L1342.7 741.6 L1346.4 740.8 L1350.2 740.3 L1354.0 740.8 L1357.7 742.0 L1361.5 740.8 L1365.2 739.2 L1369.0 741.5 L1372.7 740.2 L1376.5 741.8 L1380.2 739.1 L1384.0 739.2 L1387.7 738.7 L1391.5 738.9 L1395.3 737.8 L1399.0 736.8 L1402.8 736.2 L1406.5 737.4 L1410.3 736.9 L1414.0 736.6 L1417.8 738.7 L1421.5 737.5 L1425.3 737.9 L1429.0 736.7 L1432.8 737.4 L1436.6 737.0 L1440.3 737.1 L1444.1 737.8 L1447.8 737.7 L1451.6 737.5 L1455.3 737.4 L1459.1 736.2 L1462.8 736.9 L1466.6 737.9 L1470.3 737.5 L1474.1 737.1 L1477.9 737.9 L1481.6 736.7 L1485.4 736.8 L1489.1 737.8 L1492.9 736.6 L1496.6 737.8 L1500.4 736.8 L1504.1 736.4 L1507.9 736.0 L1511.6 732.7 L1515.4 733.8 L1519.2 732.2 L1522.9 732.5 L1526.7 732.5 L1530.4 733.7 L1534.2 733.2 L1537.9 735.2 L1541.7 734.8 L1545.4 737.7 L1549.2 740.2 L1552.9 743.0 L1556.7 743.6 L1560.5 744.6 L1564.2 746.2 L1568.0 746.8 L1571.7 750.3 L1575.5 751.0 L1579.2 752.0 L1583.0 753.1 L1586.7 751.6 L1590.5 750.6 L1594.2 750.9 L1598.0 750.8 L1602.0 751.0 L1604.8 739.5 L1607.6 725.2 L1609.9 706.0 L1612.5 630.0 L1617.3 552.2 L1617.9 552.2 L1619.4 630.0 L1622.4 706.0 L1624.0 725.2 L1625.5 753.8 L1628.5 765.0 L1634.0 769.0 L1637.8 769.5 L1641.5 769.9 L1645.3 769.5 L1649.1 770.3 L1652.9 768.6 L1656.6 768.8 L1660.4 768.9 L1664.2 769.6 L1667.9 768.1 L1671.7 768.4 L1675.5 767.7 L1679.2 767.6 L1683.0 767.6 L1686.8 768.2 L1690.6 768.8 L1694.3 767.5 L1698.1 767.5 L1701.9 767.6 L1705.6 768.1 L1709.4 768.2 L1713.2 766.4 L1716.9 767.5 L1720.7 766.3 L1724.5 767.4 L1728.3 765.8 L1732.0 765.5 L1735.8 765.6 L1739.6 766.0 L1743.3 765.1 L1747.1 765.9 L1750.9 765.6 L1754.6 765.4 L1758.4 765.3 L1762.2 765.5 L1766.0 763.9 L1769.7 764.2 L1773.5 763.8 L1777.3 761.9 L1781.0 763.5 L1784.8 762.3 L1788.6 762.1 L1792.3 762.1 L1796.1 762.4 L1799.9 762.5 L1803.7 762.5 L1807.4 761.4 L1811.2 762.4 L1815.0 762.1 L1818.7 761.3 L1822.5 761.5 L1826.3 762.0 L1830.0 761.5 L1833.8 761.5 L1837.6 760.8 L1841.4 761.5 L1845.1 762.2 L1848.9 760.6 L1852.7 758.9 L1856.4 761.5 L1860.2 759.6 L1864.0 758.8 L1867.7 758.0 L1871.5 760.1 L1875.3 760.5 L1879.1 760.2 L1882.8 758.9 L1886.6 760.1 L1890.4 758.4 L1894.1 757.6 L1897.9 757.7 L1901.7 757.4 L1905.4 756.9 L1909.2 756.8 L1913.0 754.4 L1916.8 757.1 L1920.5 755.2 L1924.3 755.9 L1928.1 754.5 L1931.8 754.8 L1935.6 753.8 L1939.4 751.9 L1943.1 752.7 L1946.9 752.0 L1950.7 749.7 L1954.5 747.9 L1958.2 748.9 L1962.0 750.5 L1965.7 753.3 L1969.3 755.4 L1973.0 759.2 L1976.7 759.9 L1980.3 764.8 L1984.0 768.1 L1987.7 772.7 L1991.3 777.2 L1995.0 781.2 L1998.7 786.0 L2002.3 788.5 L2006.0 794.0 L2011.5 798.0 L2018.0 795.5 L2022.0 790.0 L2027.8 774.0 L2031.0 747.0 L2034.1 711.0 L2037.2 663.0 L2038.2 604.0 L2039.2 545.0 L2040.3 486.0 L2041.2 429.0 L2044.5 375.7 L2045.7 360.2 L2047.5 434.6 L2048.3 504.0 L2049.2 561.0 L2049.7 663.0 L2051.3 711.0 L2052.7 765.0 L2054.3 792.0 L2056.5 818.6 L2059.0 825.0 L2062.0 828.0 L2069.0 830.2 L2072.7 829.9 L2076.4 830.2 L2080.1 830.2 L2083.8 830.6 L2087.5 830.3 L2091.3 830.5 L2095.0 831.4 L2098.7 830.8 L2102.4 830.8 L2106.1 831.1 L2109.8 830.4 L2113.5 831.0 L2117.2 831.1 L2120.9 831.0 L2124.6 831.2 L2128.4 831.2 L2132.1 831.4 L2135.8 830.8 L2139.5 831.3 L2143.2 831.0 L2146.9 831.8 L2150.6 831.5 L2154.3 831.1 L2158.0 831.6 L2161.7 831.3 L2165.5 832.0 L2169.2 831.5 L2172.9 830.9 L2176.6 831.5 L2180.3 831.9 L2184.0 831.5"/>
<path stroke="#000000" d="M30.0 1252.4 L33.7 1251.6 L37.5 1250.8 L41.2 1252.1 L45.0 1250.3 L48.7 1249.5 L52.5 1251.5 L56.2 1251.2 L60.0 1251.6 L63.7 1249.4 L67.5 1250.6 L71.2 1250.4 L75.0 1248.2 L78.7 1251.0 L82.5 1250.5 L86.2 1253.2 L90.0 1250.0 L93.7 1249.3 L97.5 1251.0 L101.2 1249.3 L105.0 1250.1 L108.7 1248.1 L112.5 1248.8 L116.2 1249.8 L120.0 1249.3 L123.7 1248.5 L127.5 1246.8 L131.2 1248.9 L135.0 1248.4 L138.7 1249.2 L142.5 1248.4 L146.2 1249.5 L150.0 1247.8 L153.7 1247.9 L157.5 1248.3 L161.2 1245.6 L165.0 1246.3 L168.7 1246.0 L172.5 1249.2 L176.2 1246.2 L180.0 1247.0 L183.7 1246.9 L187.5 1245.5 L191.2 1243.6 L195.0 1247.0 L198.7 1244.9 L202.5 1246.3 L206.2 1243.2 L210.0 1244.2 L213.7 1246.3 L217.5 1246.2 L221.2 1242.1 L224.9 1241.8 L228.7 1243.4 L232.4 1244.3 L236.2 1243.3 L239.9 1243.4 L243.7 1241.6 L247.4 1243.7 L251.2 1244.4 L254.9 1242.2 L258.7 1240.8 L262.4 1241.7 L266.2 1243.7 L269.9 1240.0 L273.7 1242.1 L277.4 1240.7 L281.2 1241.7 L284.9 1241.4 L288.7 1241.5 L292.4 1243.5 L296.2 1241.9 L299.9 1243.0 L303.7 1240.9 L307.4 1240.3 L311.2 1241.4 L314.9 1237.2 L318.7 1240.5 L322.4 1240.6 L326.2 1238.3 L329.9 1240.4 L333.7 1238.7 L337.4 1235.7 L341.2 1238.4 L344.9 1237.0 L348.7 1237.4 L352.4 1237.6 L356.2 1239.4 L359.9 1237.6 L363.7 1237.2 L367.4 1237.7 L371.2 1234.5 L374.9 1238.6 L378.7 1235.2 L382.4 1237.2 L386.2 1234.8 L389.9 1234.7 L393.7 1235.3 L397.4 1238.3 L401.2 1236.4 L404.9 1234.3 L408.7 1234.6 L412.4 1233.2 L416.2 1234.6 L419.9 1233.8 L423.6 1235.6 L427.4 1232.6 L431.1 1234.0 L434.9 1233.2 L438.6 1233.2 L442.4 1235.1 L446.1 1234.0 L449.9 1234.4 L453.6 1235.0 L457.4 1234.6 L461.1 1230.8 L464.9 1233.2 L468.6 1229.7 L472.4 1231.8 L476.1 1234.3 L479.9 1231.2 L483.6 1230.8 L487.4 1231.4 L491.1 1231.0 L494.9 1230.8 L498.6 1229.5 L502.4 1231.9 L506.1 1231.3 L509.9 1229.5 L513.6 1229.9 L517.4 1230.1 L521.1 1230.3 L524.9 1229.1 L528.6 1229.3 L532.4 1227.7 L536.1 1226.4 L539.9 1227.1 L543.6 1229.1 L547.4 1229.0 L551.1 1227.7 L554.9 1226.6 L558.6 1227.7 L562.4 1229.4 L566.1 1228.8 L569.9 1225.7 L573.6 1226.3 L577.4 1224.1 L581.1 1224.3 L584.9 1225.8 L588.6 1225.4 L592.4 1226.5 L596.1 1226.7 L599.9 1225.9 L603.6 1226.4 L607.4 1223.6 L611.1 1222.7 L614.8 1224.7 L618.6 1227.3 L622.3 1224.0 L626.1 1221.6 L629.8 1223.2 L633.6 1224.5 L637.3 1220.7 L641.1 1222.9 L644.8 1220.5 L648.6 1222.8 L652.3 1221.9 L656.1 1221.0 L659.8 1223.2 L663.6 1219.7 L667.3 1219.1 L671.1 1222.5 L674.8 1218.6 L678.6 1222.7 L682.3 1219.4 L686.1 1217.8 L689.8 1219.0 L693.6 1218.9 L697.3 1218.7 L701.1 1217.9 L704.8 1219.5 L708.6 1214.5 L712.3 1216.8 L716.1 1217.1 L719.8 1219.9 L723.6 1214.4 L727.3 1216.6 L731.1 1215.4 L734.8 1216.0 L738.6 1217.7 L742.3 1217.3 L746.1 1218.5 L749.8 1215.4 L753.6 1216.3 L757.3 1217.3 L761.1 1216.6 L764.8 1214.6 L768.6 1216.4 L772.3 1213.3 L776.1 1217.0 L779.8 1214.5 L783.6 1214.0 L787.3 1214.4 L791.1 1215.1 L794.8 1216.2 L798.6 1213.4 L802.3 1212.9 L806.1 1214.0 L809.8 1211.7 L813.5 1210.3 L817.3 1213.6 L821.0 1211.7 L824.8 1213.6 L828.5 1210.5 L832.3 1208.3 L836.0 1212.1 L839.8 1211.9 L843.5 1213.9 L847.3 1212.4 L851.0 1212.1 L854.8 1212.4 L858.5 1211.0 L862.3 1211.5 L866.0 1209.4 L869.8 1211.8 L873.5 1209.7 L877.3 1210.0 L881.0 1211.3 L884.8 1211.4 L888.5 1208.6 L892.3 1212.7 L896.0 1208.9 L899.8 1210.8 L903.5 1210.9 L907.3 1209.9 L911.0 1209.7 L914.8 1211.9 L918.5 1210.5 L922.3 1209.7 L926.0 1206.3 L929.8 1207.5 L933.5 1210.0 L937.3 1208.3 L941.0 1206.5 L944.8 1206.7 L948.5 1207.0 L952.3 1208.3 L956.0 1207.8 L959.8 1208.7 L963.5 1206.1 L967.3 1208.6 L971.0 1206.5 L974.8 1206.8 L978.5 1209.6 L982.3 1207.9 L986.0 1209.7 L989.8 1211.6 L993.5 1212.8 L997.3 1216.8 L1001.0 1216.0 L1010.0 1205.0 L1021.4 1188.6 L1027.0 1183.0 L1032.0 1181.4 L1038.0 1184.0 L1044.6 1192.0 L1048.2 1202.6 L1051.9 1213.7 L1055.5 1224.3 L1059.2 1234.6 L1062.8 1246.8 L1066.5 1256.2 L1070.1 1264.0 L1073.8 1267.7 L1077.4 1278.2 L1081.1 1283.9 L1084.7 1289.2 L1088.4 1294.6 L1092.0 1300.0 L1098.5 1306.5 L1104.0 1300.0 L1109.8 1283.0 L1112.5 1202.0 L1115.0 1126.0 L1116.0 1000.0 L1116.2 700.0 L1117.5 480.0 L1118.3 378.0 L1122.1 336.2 L1123.3 500.0 L1124.5 700.0 L1126.5 1000.0 L1127.5 1126.0 L1128.7 1202.0 L1131.4 1283.0 L1135.0 1308.0 L1140.0 1316.0 L1146.7 1319.6 L1150.4 1319.7 L1154.2 1320.4 L1157.9 1319.8 L1161.7 1319.3 L1165.4 1319.6 L1169.2 1320.0 L1172.9 1320.4 L1176.7 1321.9 L1180.4 1318.9 L1184.2 1320.3 L1187.9 1319.8 L1191.7 1320.0 L1195.4 1320.8 L1199.1 1320.6 L1202.9 1319.5 L1206.6 1319.2 L1210.4 1318.5 L1214.1 1319.6 L1217.9 1320.7 L1221.6 1319.5 L1225.4 1320.3 L1229.1 1320.3 L1232.9 1320.0 L1236.6 1320.5 L1240.4 1319.4 L1244.1 1318.8 L1247.8 1318.3 L1251.6 1319.8 L1255.3 1318.7 L1259.1 1318.6 L1262.8 1319.5 L1266.6 1318.2 L1270.3 1320.2 L1274.1 1319.4 L1277.8 1318.4 L1281.6 1318.4 L1285.3 1319.8 L1289.1 1317.9 L1292.8 1318.3 L1296.6 1318.7 L1300.3 1318.8 L1304.0 1318.5 L1307.8 1318.7 L1311.5 1317.9 L1315.3 1318.0 L1319.0 1319.0 L1322.8 1318.5 L1326.5 1317.5 L1330.3 1319.2 L1334.0 1316.2 L1337.8 1317.9 L1341.5 1318.3 L1345.3 1318.4 L1349.0 1317.6 L1352.7 1317.1 L1356.5 1317.7 L1360.2 1316.9 L1364.0 1317.2 L1367.7 1314.6 L1371.5 1316.8 L1375.2 1315.7 L1379.0 1317.0 L1382.7 1316.8 L1386.5 1316.7 L1390.2 1315.8 L1394.0 1316.5 L1397.7 1315.9 L1401.4 1316.3 L1405.2 1316.1 L1408.9 1315.5 L1412.7 1317.7 L1416.4 1316.6 L1420.2 1314.3 L1423.9 1316.6 L1427.7 1314.7 L1431.4 1315.5 L1435.2 1315.2 L1438.9 1315.2 L1442.7 1315.8 L1446.4 1315.4 L1450.1 1314.5 L1453.9 1315.7 L1457.6 1316.1 L1461.4 1317.2 L1465.1 1315.5 L1468.9 1314.8 L1472.6 1315.3 L1476.4 1316.0 L1480.1 1314.6 L1483.9 1314.5 L1487.6 1315.3 L1491.4 1314.6 L1495.1 1314.6 L1498.9 1313.7 L1502.6 1313.4 L1506.3 1313.7 L1510.1 1313.7 L1513.8 1313.5 L1517.6 1314.1 L1521.3 1314.1 L1525.1 1313.9 L1528.8 1313.8 L1532.6 1312.5 L1536.3 1312.1 L1540.1 1313.5 L1543.8 1312.7 L1547.6 1312.7 L1551.3 1311.6 L1555.0 1312.2 L1558.8 1311.9 L1562.5 1311.7 L1566.3 1311.9 L1570.0 1311.2 L1573.8 1312.6 L1577.5 1313.5 L1581.3 1312.0 L1585.0 1312.7 L1588.8 1311.7 L1592.5 1313.1 L1596.3 1313.9 L1600.0 1312.0 L1607.0 1311.0 L1611.0 1306.0 L1613.5 1297.0 L1617.5 1293.0 L1621.5 1296.0 L1624.5 1305.0 L1629.0 1311.0 L1636.0 1311.8 L1639.8 1311.6 L1643.5 1309.8 L1647.3 1311.2 L1651.1 1311.9 L1654.8 1312.2 L1658.6 1311.4 L1662.4 1310.3 L1666.1 1310.1 L1669.9 1309.1 L1673.6 1309.6 L1677.4 1311.3 L1681.2 1310.2 L1684.9 1309.3 L1688.7 1311.4 L1692.5 1309.1 L1696.2 1311.5 L1700.0 1310.3 L1703.8 1310.8 L1707.5 1311.1 L1711.3 1310.7 L1715.1 1311.4 L1718.8 1310.3 L1722.6 1309.9 L1726.4 1309.5 L1730.1 1308.7 L1733.9 1309.2 L1737.6 1310.5 L1741.4 1310.3 L1745.2 1310.7 L1748.9 1311.5 L1752.7 1310.0 L1756.5 1309.8 L1760.2 1308.2 L1764.0 1308.9 L1767.8 1310.6 L1771.5 1308.9 L1775.3 1308.1 L1779.1 1308.1 L1782.8 1306.0 L1786.6 1306.6 L1790.4 1305.9 L1794.1 1304.9 L1797.9 1307.0 L1801.7 1307.0 L1805.4 1305.9 L1809.2 1306.2 L1812.9 1305.0 L1816.7 1306.1 L1820.5 1306.2 L1824.2 1306.7 L1828.0 1306.6 L1831.8 1305.7 L1835.5 1305.0 L1839.3 1304.3 L1843.1 1304.3 L1846.8 1305.1 L1850.6 1304.9 L1854.4 1304.4 L1858.1 1305.6 L1861.9 1304.7 L1865.7 1304.1 L1869.4 1303.9 L1873.2 1304.0 L1876.9 1303.1 L1880.7 1303.0 L1884.5 1304.0 L1888.2 1302.9 L1892.0 1302.9 L1895.8 1303.7 L1899.5 1302.2 L1903.3 1303.0 L1907.1 1301.5 L1910.8 1302.4 L1914.6 1301.2 L1918.4 1298.9 L1922.1 1300.9 L1925.9 1299.3 L1929.7 1297.5 L1933.4 1298.5 L1937.2 1297.8 L1940.9 1295.8 L1944.7 1295.5 L1948.5 1295.3 L1952.2 1294.9 L1956.0 1293.6 L1959.8 1294.0 L1963.5 1294.8 L1967.3 1295.9 L1971.0 1300.4 L1974.8 1304.0 L1978.5 1306.3 L1982.3 1310.7 L1986.0 1314.1 L1989.8 1319.6 L1993.5 1324.1 L1997.3 1328.6 L2001.0 1332.0 L2004.8 1338.1 L2008.5 1342.5 L2012.3 1348.8 L2018.0 1354.5 L2023.0 1356.5 L2027.0 1352.0 L2030.0 1345.0 L2032.2 1337.0 L2034.5 1311.0 L2036.5 1258.5 L2038.1 1206.0 L2038.5 1180.0 L2040.8 1055.0 L2043.0 930.0 L2044.5 850.0 L2045.7 790.8 L2047.5 930.0 L2049.2 1055.0 L2051.9 1180.0 L2052.2 1206.0 L2054.1 1258.5 L2055.8 1311.0 L2057.7 1337.0 L2059.5 1354.0 L2062.0 1361.0 L2065.0 1364.5 L2068.5 1365.9 L2072.2 1366.2 L2076.0 1366.1 L2079.7 1366.5 L2083.4 1366.7 L2087.1 1366.5 L2090.9 1366.0 L2094.6 1366.2 L2098.3 1367.0 L2102.0 1366.5 L2105.8 1367.4 L2109.5 1367.1 L2113.2 1367.4 L2116.9 1367.1 L2120.7 1367.4 L2124.4 1366.7 L2128.1 1367.5 L2131.8 1367.8 L2135.6 1367.3 L2139.3 1367.4 L2143.0 1367.7 L2146.7 1367.8 L2150.5 1367.5 L2154.2 1368.2 L2157.9 1367.4 L2161.6 1368.5 L2165.4 1367.8 L2169.1 1368.2 L2172.8 1369.1 L2176.5 1368.4 L2180.3 1368.3 L2184.0 1369.0"/>
</g>
<path fill="none" stroke="#ff0000" stroke-width="12.3" stroke-linejoin="round" stroke-linecap="butt" clip-path="url(#ci)" d="M214.0 338.5 L217.2 338.4 L220.5 337.9 L224.6 336.4 L228.7 336.5 L230.5 339.7 L232.4 343.6 L234.2 346.1 L239.7 347.5 L242.8 346.5 L245.8 344.7 L248.9 341.2 L252.0 340.6 L255.1 338.5 L258.1 338.0 L261.2 336.5 L264.3 333.8 L267.8 334.1 L271.2 337.9 L274.8 338.4 L278.5 341.1 L282.1 339.3 L285.2 339.7 L288.3 340.1 L291.4 340.8 L294.5 339.3 L296.9 335.2 L299.2 334.4 L301.6 332.4 L304.0 329.7 L307.1 329.0 L310.2 328.3 L313.3 326.4 L316.4 324.2 L319.1 325.0 L321.9 326.8 L324.6 328.3 L327.3 331.2 L330.1 334.1 L332.8 336.5 L336.0 337.3 L339.2 338.5 L342.4 337.9 L344.7 333.9 L346.9 333.0 L349.2 329.7 L352.4 331.9 L355.6 331.8 L358.8 331.6 L361.9 332.9 L365.0 331.1 L368.0 331.1 L371.1 331.0 L373.8 331.0 L376.6 335.3 L379.3 336.7 L382.0 337.9 L385.2 341.1 L388.4 342.3 L391.6 343.4 L394.9 343.5 L398.2 344.4 L401.4 343.6 L404.7 346.1 L408.0 346.1 L410.3 348.4 L412.7 351.4 L415.0 354.3 L417.1 357.3 L419.1 359.6 L421.2 362.5 L424.1 362.9 L427.1 358.7 L430.0 359.8 L433.2 359.3 L436.4 356.7 L439.6 358.4 L441.7 355.4 L443.7 353.5 L445.8 349.7 L447.8 348.8 L451.0 347.3 L454.2 345.3 L457.4 343.4 L460.6 341.2 L463.7 340.9 L466.9 339.3 L469.3 341.3 L471.7 343.1 L474.1 345.5 L476.5 347.5 L478.6 343.0 L480.6 344.1 L482.6 341.2 L484.7 336.5 L486.1 333.9 L487.5 330.4 L488.8 326.4 L490.2 323.8 L491.6 320.1 L492.4 317.2 L493.1 314.0 L493.9 310.8 L494.6 307.9 L495.4 305.0 L496.1 302.3 L496.9 298.1 L497.6 296.3 L498.4 292.7 L499.0 289.4 L499.7 286.6 L500.3 283.7 L500.9 280.2 L501.5 277.9 L502.2 274.8 L502.8 271.7 L503.4 269.0 L504.0 265.9 L504.7 263.0 L505.3 259.9 L506.2 256.7 L507.0 253.4 L507.9 250.9 L508.7 247.7 L509.6 244.3 L510.4 241.3 L511.2 238.9 L512.1 235.2 L513.9 232.9 L515.8 230.0 L517.6 227.0 L521.7 225.6 L524.0 230.1 L526.2 230.6 L528.5 232.5 L529.9 235.8 L531.3 239.5 L532.6 241.6 L534.0 246.3 L535.4 248.9 L536.4 251.8 L537.3 254.4 L538.3 257.6 L539.2 261.0 L540.2 264.0 L541.2 266.8 L542.1 269.8 L543.1 272.8 L544.0 275.9 L545.0 279.0 L545.7 282.4 L546.5 285.2 L547.2 288.4 L548.0 291.0 L548.7 294.0 L549.5 297.0 L550.2 300.1 L551.0 303.2 L551.7 305.6 L552.5 308.6 L553.2 311.9 L553.8 314.4 L554.4 318.4 L555.0 321.8 L555.6 323.8 L556.2 327.4 L556.8 329.6 L557.4 333.3 L558.0 336.3 L558.6 339.3 L559.8 342.2 L560.9 345.8 L562.0 348.5 L563.2 352.0 L564.4 355.9 L565.5 358.4 L567.4 362.4 L569.3 362.6 L571.3 365.7 L573.2 371.1 L575.1 372.1 L577.8 374.2 L580.5 373.2 L583.3 377.4 L586.0 379.0 L591.0 381.7 L593.5 380.2 L595.9 384.6 L598.4 388.5 L600.8 390.7 L603.3 392.7 L606.8 391.6 L610.4 391.8 L613.9 392.7 L617.5 393.3 L621.0 392.7 L624.2 393.0 L627.5 394.5 L630.7 395.4 L632.8 398.0 L634.8 401.5 L636.9 404.3 L638.9 407.7 L642.3 408.9 L645.8 408.3 L649.2 408.2 L652.6 407.7 L655.1 406.1 L657.6 403.2 L660.1 400.6 L662.6 399.6 L665.1 395.6 L667.6 394.0 L670.8 392.5 L674.0 393.1 L677.2 393.5 L680.4 393.2 L683.6 392.7 L686.8 392.7 L689.5 392.9 L692.3 394.3 L695.0 395.5 L697.8 398.1 L700.5 399.5 L704.1 399.1 L707.8 398.0 L711.4 396.8 L715.0 396.5 L718.5 395.0 L722.1 395.8 L725.6 396.0 L729.2 395.4 L732.3 397.3 L735.4 399.4 L738.4 401.2 L741.5 403.6 L743.8 399.7 L746.1 398.5 L748.4 395.4 L750.1 392.4 L751.8 389.1 L753.5 386.1 L755.2 383.0 L757.2 379.8 L759.3 375.4 L761.4 376.2 L763.4 372.3 L765.5 369.0 L767.5 366.6 L769.6 364.5 L771.6 362.0 L773.7 359.8 L775.8 357.2 L777.8 355.5 L779.9 352.9 L781.3 349.5 L782.6 347.8 L784.0 343.9 L785.3 341.5 L786.7 339.2 L787.3 335.7 L787.9 332.6 L788.5 330.0 L789.1 327.5 L789.8 324.2 L790.4 321.4 L791.0 317.9 L791.6 314.9 L792.2 311.9 L792.8 308.7 L793.5 305.5 L794.1 303.1 L794.7 300.1 L795.4 296.8 L796.0 293.9 L796.6 291.3 L797.2 287.5 L797.9 284.9 L798.5 282.0 L799.1 279.8 L799.8 276.2 L800.4 273.5 L801.0 270.3 L801.6 267.3 L802.2 264.0 L802.8 260.3 L803.4 257.4 L804.0 254.9 L804.6 252.5 L805.2 248.6 L805.8 246.3 L806.4 242.9 L807.0 240.1 L807.6 236.7 L808.2 233.3 L808.8 230.3 L809.4 227.6 L810.0 224.3 L810.5 221.5 L811.1 218.7 L811.6 215.4 L812.1 211.7 L812.7 208.8 L813.2 206.1 L813.7 203.0 L814.3 200.8 L814.8 196.4 L815.3 193.9 L815.9 190.8 L816.4 188.0 L816.9 185.0 L817.5 181.7 L818.0 178.3 L818.5 175.8 L819.1 172.1 L819.6 169.5 L820.1 166.1 L820.5 163.9 L821.0 159.9 L821.4 157.1 L821.9 153.7 L822.3 150.9 L822.8 148.1 L823.2 145.8 L823.7 141.8 L824.2 138.6 L824.6 136.5 L825.1 132.5 L825.5 130.3 L826.0 127.4 L826.4 124.0 L826.9 121.2 L827.3 117.7 L827.8 114.8 L828.6 112.0 L829.3 108.1 L830.1 105.6 L830.9 102.3 L831.7 98.7 L832.4 96.9 L833.2 92.9 L835.3 89.2 L837.4 86.0 L839.2 88.8 L841.0 92.6 L842.8 95.6 L843.3 98.3 L843.8 101.8 L844.3 104.9 L844.8 107.7 L845.3 110.4 L845.8 113.2 L846.3 116.5 L846.8 119.4 L847.3 122.6 L847.8 125.6 L848.3 128.4 L848.6 131.3 L848.9 134.5 L849.2 137.3 L849.5 140.5 L849.8 143.7 L850.1 146.3 L850.4 149.5 L850.7 152.5 L851.0 155.9 L851.4 158.8 L851.7 161.8 L852.0 165.3 L852.3 167.8 L852.6 170.7 L852.9 173.8 L853.2 177.2 L853.5 180.2 L853.8 183.2 L854.0 186.2 L854.3 189.0 L854.5 192.4 L854.8 196.1 L855.0 199.0 L855.3 201.5 L855.5 204.5 L855.8 208.0 L856.0 211.2 L856.3 214.2 L856.5 217.2 L856.8 220.1 L857.0 223.6 L857.3 226.5 L857.5 230.1 L857.8 232.4 L858.0 235.9 L858.3 240.0 L858.5 242.7 L858.8 245.5 L859.0 248.7 L859.3 251.6 L859.5 254.8 L859.8 257.3 L860.0 260.3 L860.2 263.5 L860.4 266.9 L860.7 269.5 L860.9 272.8 L861.1 275.7 L861.3 279.2 L861.6 281.7 L861.8 285.2 L862.0 288.4 L862.3 291.5 L862.5 294.1 L862.7 297.9 L862.9 300.9 L863.2 303.2 L863.4 306.4 L863.7 309.3 L863.9 312.9 L864.2 315.6 L864.4 318.5 L864.7 321.8 L864.9 324.8 L865.2 328.4 L865.5 331.0 L865.7 334.2 L866.0 336.7 L866.2 340.5 L866.5 343.1 L866.7 346.7 L867.0 349.7 L867.2 352.6 L867.5 355.7 L868.1 357.9 L868.6 362.1 L869.2 365.7 L869.8 368.5 L870.3 371.4 L870.9 374.9 L871.5 378.7 L872.0 381.5 L872.6 384.6 L873.2 387.3 L873.7 390.6 L874.3 394.0 L875.3 397.5 L876.3 400.1 L877.3 403.2 L878.2 406.6 L879.2 409.7 L880.2 412.7 L881.2 415.9 L882.6 419.0 L883.9 421.4 L885.3 424.2 L886.7 426.6 L888.0 429.4 L889.4 432.3 L890.8 435.8 L892.1 439.0 L893.5 443.4 L894.9 446.0 L897.6 449.0 L900.3 451.5 L903.4 451.4 L906.6 452.9 L909.7 451.8 L912.8 452.9 L915.9 453.1 L919.1 453.3 L922.2 452.9 L925.7 454.8 L929.1 457.0 L932.3 455.8 L935.5 452.2 L938.7 452.9 L942.8 455.6 L946.9 455.6 L949.2 457.6 L951.5 461.1 L953.8 464.2 L956.0 466.5"/>
<ellipse cx="1612" cy="948.4" rx="105.9" ry="445.4" fill="none" stroke="#ff0000" stroke-width="8.2"/>
<g font-family="'Liberation Serif', serif" fill="#000">
<text y="1563.4" font-size="76.0"><tspan x="49.1 90.2 131.3">800</tspan></text>
<text y="1563.4" font-size="76.0"><tspan x="422.3 466.0 506.8">700</tspan></text>
<text y="1563.4" font-size="76.0"><tspan x="798.1 840.9 881.7">600</tspan></text>
<text y="1563.4" font-size="76.0"><tspan x="1172.2 1216.0 1256.8">500</tspan></text>
<text y="1563.4" font-size="76.0"><tspan x="1548.7 1591.0 1632.3">400</tspan></text>
<text y="1563.4" font-size="76.0"><tspan x="1922.9 1966.0 2008.2">300</tspan></text>
<text y="580.0" font-size="78.0"><tspan x="194.0 237.7 283.4">808</tspan></text>
<text y="580.0" font-size="78.0"><tspan x="357.4 401.5 444.9">800</tspan></text>
<text y="580.0" font-size="78.0"><tspan x="518.1 563.9 607.7">792</tspan></text>
<text y="580.0" font-size="78.0"><tspan x="680.0 726.2 769.0">784</tspan></text>
<text y="580.0" font-size="78.0"><tspan x="843.0 886.7 931.7">776</tspan></text>
<text y="1653.5" font-size="79.5"><tspan x="656.4 719.4 743.6 790.3 836.4 861.7 907.1">Binding</tspan> <tspan x="975.0 1029.9 1076.4 1117.4 1146.4 1189.8">Energy</tspan> <tspan x="1257.1 1287.4 1328.0 1393.3">(eV)</tspan></text>
<text y="668.9" font-size="76.0"><tspan x="57.6 112.1">Co</tspan> <tspan x="172.4 214.9">2p</tspan></text>
<text y="192.9" font-size="76.0"><tspan x="1051.1">O</tspan> <tspan x="1129.8 1173.0">1s</tspan></text>
<text y="475.0" font-size="76.0"><tspan x="1542.2">N</tspan> <tspan x="1622.8 1665.0">1s</tspan></text>
<text y="330.8" font-size="76.0"><tspan x="1982.5">C</tspan> <tspan x="2056.8 2099.0">1s</tspan></text>
<text y="813.1" font-size="73.5"><tspan x="2111.5">e</tspan></text>
<text y="944.7" font-size="73.5"><tspan x="2105.7">d</tspan></text>
<text y="1076.5" font-size="73.5"><tspan x="2112.9">c</tspan></text>
<text y="1202.2" font-size="73.5"><tspan x="2119.3">b</tspan></text>
<text y="1347.6" font-size="73.5"><tspan x="2121.9">a</tspan></text>
<text y="438.3" font-size="73.5"><tspan x="911.0">e</tspan></text>
<text y="212.3" font-size="78.5" fill="#ff0000"><tspan x="406.9 465.0">Co</tspan> <tspan x="530.6 573.9">2p</tspan><tspan dy="9.5" x="616.3 661.4 685.5">1/2</tspan></text>
<text y="78.2" font-size="78.5" fill="#ff0000"><tspan x="724.6 782.1">Co</tspan> <tspan x="847.4 891.9">2p</tspan><tspan dy="9.2" x="932.3 979.4 1002.3">3/2</tspan></text>
</g>
</svg>
</body>
</html>
